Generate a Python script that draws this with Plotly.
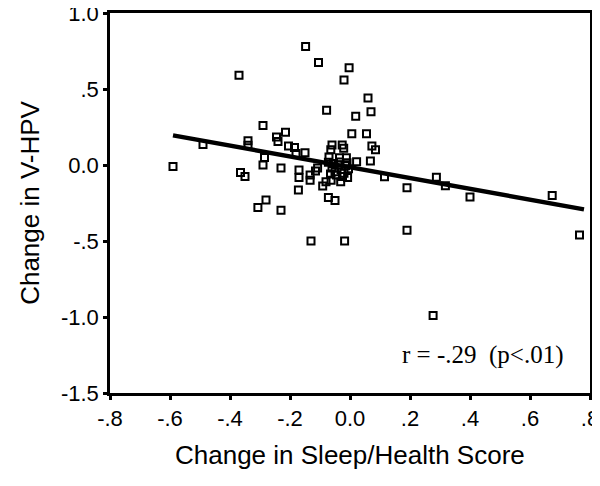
import plotly.graph_objects as go

# Scatter data: change in sleep/health score (x) vs change in V-HPV (y)
sleep_change = [
    -0.59, -0.49, -0.37, -0.29, -0.34, -0.34, -0.285, -0.29, -0.365, -0.35,
    -0.23, -0.245, -0.24, -0.215, -0.205, -0.185, -0.18, -0.15, -0.148, -0.105,
    -0.078, -0.003, -0.02, 0.06, 0.07, 0.019, 0.006, 0.055, 0.073, 0.085,
    0.068, 0.022, 0.115, 0.19, 0.288, 0.318, 0.40, 0.674, 0.765, 0.19,
    0.277, -0.13, -0.018, -0.28, -0.307, -0.23, -0.172, -0.17, -0.17, -0.133,
    -0.133, -0.115, -0.108, -0.091, -0.08, -0.072, -0.05, -0.06, -0.064, -0.026,
    -0.021, -0.07, -0.035, -0.012, -0.072, -0.031, -0.008, -0.063,
    -0.06, -0.05, -0.04, -0.03, -0.02, -0.045, -0.055, -0.015, -0.035, -0.005,
    -0.065, -0.025, -0.01,
]
vhpv_change = [
    -0.01, 0.135, 0.59, 0.26, 0.16, 0.13, 0.05, 0.00, -0.05, -0.075,
    -0.02, 0.185, 0.155, 0.215, 0.125, 0.115, 0.075, 0.08, 0.78, 0.675,
    0.36, 0.64, 0.56, 0.44, 0.35, 0.32, 0.205, 0.205, 0.125, 0.10,
    0.027, 0.022, -0.077, -0.15, -0.08, -0.137, -0.21, -0.20, -0.46, -0.43,
    -0.99, -0.50, -0.50, -0.23, -0.28, -0.297, -0.164, -0.033, -0.083, -0.066,
    -0.10, -0.04, -0.02, -0.138, -0.11, -0.213, -0.233, 0.132, 0.10, 0.132,
    0.11, 0.052, 0.048, 0.048, 0.018, -0.11, -0.082, -0.10,
    -0.02, -0.045, 0.0, -0.03, -0.055, -0.065, 0.01, -0.005, 0.02, -0.025,
    -0.06, -0.075, 0.015,
]

# Fitted regression line endpoints
fit_x = [-0.59, 0.78]
fit_y = [0.195, -0.292]

x_tickvals = [-0.8, -0.6, -0.4, -0.2, 0.0, 0.2, 0.4, 0.6, 0.8]
x_ticktext = ["-.8", "-.6", "-.4", "-.2", "0.0", ".2", ".4", ".6", ".8"]
y_tickvals = [-1.5, -1.0, -0.5, 0.0, 0.5, 1.0]
y_ticktext = ["-1.5", "-1.0", "-.5", "0.0", ".5", "1.0"]

fig = go.Figure()
fig.add_trace(go.Scatter(
    x=sleep_change, y=vhpv_change, mode="markers",
    marker=dict(symbol="square-open", size=7, color="black",
                line=dict(color="black", width=2)),
    showlegend=False, hoverinfo="skip",
))
fig.add_trace(go.Scatter(
    x=fit_x, y=fit_y, mode="lines",
    line=dict(color="black", width=4.5),
    showlegend=False, hoverinfo="skip",
))

axis_common = dict(
    showgrid=False, zeroline=False, showline=True, mirror=True,
    linecolor="black", linewidth=2.5, ticks="outside", ticklen=4,
    tickwidth=2.5, tickcolor="black", ticklabeloverflow="allow",
    automargin=False,
    tickfont=dict(family="Liberation Sans, Arial, sans-serif", size=22, color="black"),
)

fig.update_layout(
    width=592, height=478,
    margin=dict(l=102, r=10, t=5, b=93, autoexpand=False),
    paper_bgcolor="white", plot_bgcolor="white",
    xaxis=dict(range=[-0.8, 0.8], tickvals=x_tickvals, ticktext=x_ticktext, **axis_common),
    yaxis=dict(range=[-1.5, 1.0], tickvals=y_tickvals, ticktext=y_ticktext, **axis_common),
    annotations=[
        dict(text="Change in Sleep/Health Score", xref="paper", yref="paper",
             x=0.5, y=-0.163, xanchor="center", yanchor="middle", showarrow=False,
             font=dict(family="Liberation Sans, Arial, sans-serif", size=26, color="black")),
        dict(text="Change in V-HPV", xref="paper", yref="paper",
             x=-0.167, y=0.5, xanchor="center", yanchor="middle", showarrow=False,
             textangle=-90,
             font=dict(family="Liberation Sans, Arial, sans-serif", size=26, color="black")),
        dict(text="r = -.29  (p<.01)", xref="paper", yref="paper",
             x=0.777, y=0.1, xanchor="center", yanchor="middle", showarrow=False,
             font=dict(family="Liberation Serif, Times New Roman, serif", size=25, color="black")),
    ],
)

fig.write_html("out.html")
